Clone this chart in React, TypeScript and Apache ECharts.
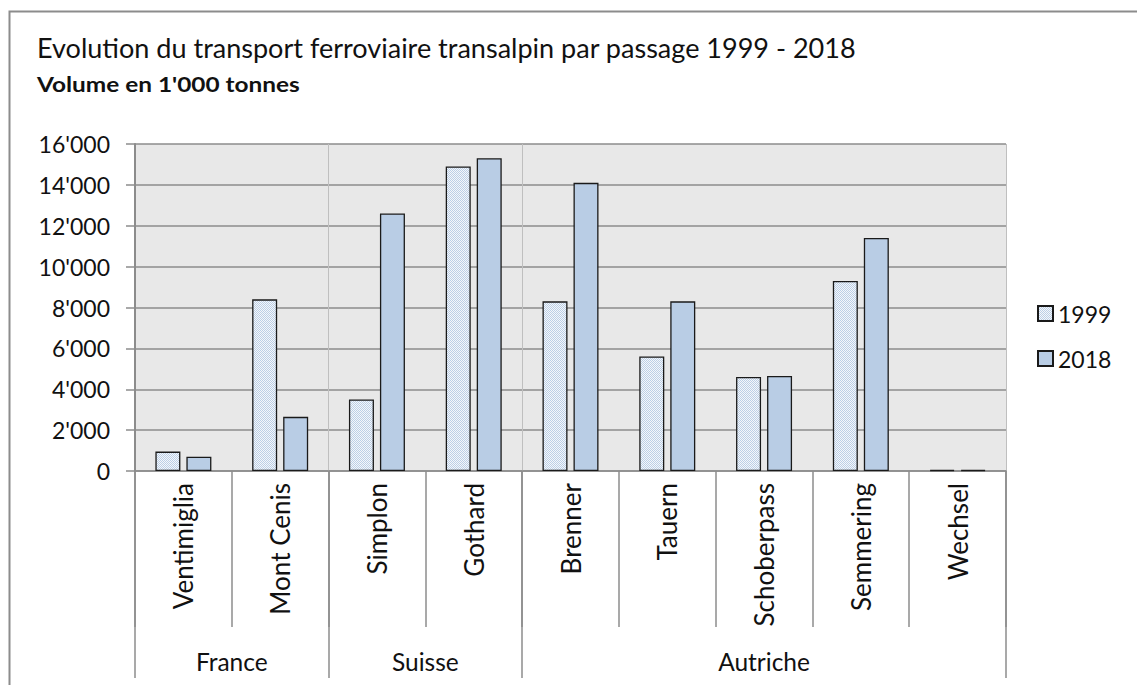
import React, { useEffect, useRef } from "react";
import * as echarts from "echarts";

const categories = ["Ventimiglia", "Mont Cenis", "Simplon", "Gothard", "Brenner", "Tauern", "Schoberpass", "Semmering", "Wechsel"];
const values1999 = [950, 8400, 3500, 14900, 8300, 5600, 4600, 9300, 50];
const values2018 = [700, 2650, 12600, 15300, 14100, 8300, 4650, 11400, 50];
const seriesNames = ["1999", "2018"];
const groups = ["France", "Suisse", "Autriche"];
const groupSizes = [2, 2, 5];
const yMin = 0;
const yMax = 16000;
const yStep = 2000;
const titleText = "Evolution du transport ferroviaire transalpin par passage 1999 - 2018";
const subtitleText = "Volume en 1'000 tonnes";

const FONT = "Lato, 'Noto Sans', sans-serif";

function fmt(v: number): string {
  return String(v).replace(/\B(?=(\d{3})+(?!\d))/g, "'");
}

export default function App() {
  const ref = useRef<HTMLDivElement>(null);
  useEffect(() => {
    if (!ref.current) return;
    const chart = echarts.init(ref.current, undefined, { renderer: "svg" });

    const c = document.createElement("canvas");
    c.width = 2;
    c.height = 2;
    const ctx = c.getContext("2d")!;
    ctx.fillStyle = "#f4f7fb";
    ctx.fillRect(0, 0, 2, 2);
    ctx.fillStyle = "#bccfe6";
    ctx.fillRect(0, 0, 1, 1);
    ctx.fillRect(1, 1, 1, 1);
    const pattern: any = { image: c, repeat: "repeat", imageWidth: 2, imageHeight: 2 };

    const bounds: number[] = [0];
    const centers: number[] = [];
    groupSizes.forEach((s, i) => {
      centers.push(bounds[i] + s / 2);
      bounds.push(bounds[i] + s);
    });
    const groupBoundaryIdx = bounds.slice(1, -1);

    chart.setOption({
      animation: false,
      backgroundColor: "#ffffff",
      textStyle: { fontFamily: FONT },
      graphic: [
        {
          type: "rect",
          silent: true,
          z: -10,
          shape: { x: 9.5, y: 11.5, width: 1400, height: 1000 },
          style: { fill: "none", stroke: "#8c8c8c", lineWidth: 2 },
        },
        {
          type: "text",
          x: 37,
          y: 48,
          scaleX: 1.04,
          style: { text: titleText, fill: "#111", font: `26px ${FONT}`, align: "left", verticalAlign: "middle" },
        },
        {
          type: "text",
          x: 37,
          y: 84,
          scaleX: 1.22,
          style: { text: subtitleText, fill: "#111", font: `bold 20px ${FONT}`, align: "left", verticalAlign: "middle" },
        },
      ],
      legend: {
        orient: "vertical",
        left: 1032,
        top: 297,
        itemWidth: 15,
        itemHeight: 15,
        itemGap: 22,
        icon: "rect",
        data: seriesNames,
        textStyle: { fontFamily: FONT, fontSize: 23, color: "#111", lineHeight: 23 },
      },
      grid: { left: 135, top: 144, right: 131, bottom: 214, show: true, backgroundColor: "#e8e8e8", borderWidth: 0 },
      xAxis: [
        {
          type: "category",
          data: categories,
          position: "bottom",
          axisLine: { show: true, onZero: false, lineStyle: { color: "#8c8c8c", width: 1.5 } },
          axisTick: { show: true, interval: 0, length: 156, lineStyle: { color: "#8c8c8c", width: 1.5 } },
          axisLabel: { interval: 0, rotate: 90, margin: 12, fontFamily: FONT, fontSize: 26, color: "#111" },
          splitLine: {
            show: true,
            interval: (idx: number) => groupBoundaryIdx.indexOf(idx) >= 0,
            lineStyle: { color: "#bfbfbf", width: 1 },
          },
        },
        {
          type: "value",
          min: 0,
          max: categories.length,
          position: "bottom",
          offset: 0,
          axisLine: { show: false },
          splitLine: { show: false },
          axisTick: { show: true, customValues: bounds, length: 207, lineStyle: { color: "#8c8c8c", width: 1.5 } },
          axisLabel: {
            show: true,
            customValues: centers,
            margin: 178,
            fontFamily: FONT,
            fontSize: 24.5,
            color: "#111",
            formatter: (v: number) => {
              const i = centers.indexOf(v);
              return i >= 0 ? groups[i] : "";
            },
          },
        },
      ],
      yAxis: {
        type: "value",
        min: yMin,
        max: yMax,
        interval: yStep,
        axisLine: { show: true, lineStyle: { color: "#8c8c8c", width: 2 } },
        axisTick: { show: true, length: 9, lineStyle: { color: "#8c8c8c", width: 1.5 } },
        axisLabel: { margin: 25, fontFamily: FONT, fontSize: 23, color: "#111", formatter: (v: number) => fmt(v) },
        splitLine: { show: true, lineStyle: { color: "#8c8c8c", width: 1.5 } },
      },
      series: [
        {
          name: seriesNames[0],
          type: "bar",
          data: values1999,
          barWidth: 25,
          barGap: "24%",
          itemStyle: { color: pattern, borderColor: "#1a1a1a", borderWidth: 1.3 },
        },
        {
          name: seriesNames[1],
          type: "bar",
          data: values2018,
          barWidth: 25,
          barGap: "24%",
          itemStyle: { color: "#b9cde5", borderColor: "#1a1a1a", borderWidth: 1.3 },
        },
      ],
    });
    return () => chart.dispose();
  }, []);
  return <div ref={ref} style={{ position: "absolute", left: 0, top: 0, width: 1137, height: 685 }} />;
}
